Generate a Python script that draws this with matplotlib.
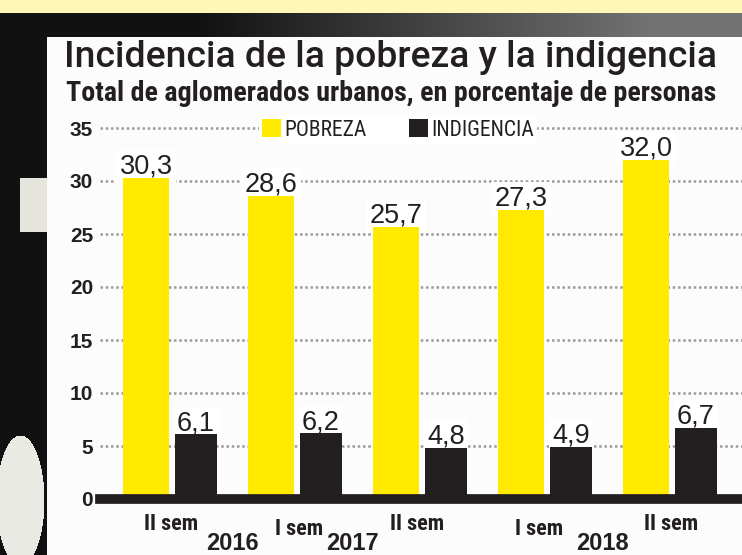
import os
import matplotlib
matplotlib.use('Agg')
import numpy as np
import matplotlib.pyplot as plt
from matplotlib import font_manager
from matplotlib.font_manager import FontProperties
from matplotlib.patches import Patch

# ── data ──────────────────────────────────────────────────────────────────────
periods    = ['II sem', 'I sem', 'II sem', 'I sem', 'II sem']
years      = ['2016', '2017', '2018']
pobreza    = [30.3, 28.6, 25.7, 27.3, 32.0]
indigencia = [6.1, 6.2, 4.8, 4.9, 6.7]
yticks     = [0, 5, 10, 15, 20, 25, 30, 35]

# ── layout / style ────────────────────────────────────────────────────────────
W, H      = 742, 555
YELLOW    = '#FFEA00'
BLACK     = '#231F20'
GRID      = '#9a9a9a'
TXT       = '#231F20'
year_x    = [0.49, 1.455, 3.45]    # year labels sit between the groups
period_dx = [0, 3, -4, -7, 0]      # small hand-set nudges (px), as printed
period_dy = [0, -5, 0, -5, 0]      # "I sem" labels sit a little lower (px)

files = {os.path.splitext(os.path.basename(f.fname))[0].lower(): f.fname
         for f in font_manager.fontManager.ttflist}


def pick(cands, fallback):
    for c in cands:
        if c.lower() in files:
            return FontProperties(fname=files[c.lower()])
    return FontProperties(family=fallback[0], weight=fallback[1])


COND_REG   = pick(['LiberationSansNarrow-Regular', 'NotoSans-Condensed',
                   'RobotoCondensed-Regular', 'DejaVuSansCondensed'],
                  ('Liberation Sans', 'normal'))
TITLE_FONT = pick(['Roboto-Medium', 'NotoSans-Medium', 'Inter-Medium',
                   'RobotoCondensed-Medium'],
                  ('Liberation Sans', 'normal'))
COND_BOLD  = pick(['LiberationSansNarrow-Bold', 'NotoSans-CondensedBold',
                   'RobotoCondensed-Bold', 'DejaVuSansCondensed-Bold'],
                  ('Liberation Sans', 'bold'))
SANS       = FontProperties(family='Liberation Sans')
SANS_BOLD  = FontProperties(family='Liberation Sans', weight='bold')


def fp(base, size):
    p = base.copy()
    p.set_size(size)
    return p


fig = plt.figure(figsize=(W / 100, H / 100), dpi=100)

# ── background: photo frame around the white panel ────────────────────────────
bg = np.full((H, W, 3), 0.07)
xx = np.arange(W)
ramp = 0.07 + 0.38 * np.clip((xx - 200) / 450, 0, 1)
bg[13:37, :, :] = ramp[None, :, None]
bg[:13, :, :] = (1.0, 0.965, 0.72)
bg[37:, 47:, :] = 0.99
bg[178:232, 20:47, :] = (0.9, 0.9, 0.87)
yy, xg = np.mgrid[0:H, 0:W]
blob = ((xg - 20) / 24.0) ** 2 + ((yy - 500) / 65.0) ** 2 < 1
blob &= xg < 47
bg[blob] = (0.92, 0.92, 0.9)
axbg = fig.add_axes([0, 0, 1, 1])
axbg.imshow(bg, extent=(0, W, H, 0), aspect='auto', interpolation='nearest')
axbg.set_xlim(0, W); axbg.set_ylim(H, 0)
axbg.axis('off')

# ── titles ────────────────────────────────────────────────────────────────────
def fit_width(t, target_px, max_size=99):
    fig.canvas.draw()
    w = t.get_window_extent(fig.canvas.get_renderer()).width
    t.set_fontsize(min(t.get_fontsize() * target_px / w, max_size))


title = fig.text(64 / W, 1 - 67 / H, 'Incidencia de la pobreza y la indigencia',
                 fontproperties=fp(TITLE_FONT, 24), color=TXT, va='baseline')
sub = fig.text(66 / W, 1 - 101 / H,
               'Total de aglomerados urbanos, en porcentaje de personas',
               fontproperties=fp(COND_BOLD, 18), color=TXT, va='baseline')
fit_width(title, 654, 28)
fit_width(sub, 650)

# ── chart axes ────────────────────────────────────────────────────────────────
px_unit = 10.6
y0_px   = 499
ytop    = 36.5
x0_px, grp_px = 171, 125
ax = fig.add_axes([100 / W, 1 - y0_px / H, (W - 100) / W, ytop * px_unit / H])
ax.set_facecolor('none')
ax.set_xlim((100 - x0_px) / grp_px, (W - x0_px) / grp_px)
ax.set_ylim(0, ytop)
for s in ax.spines.values():
    s.set_visible(False)

x = np.arange(len(periods))
for yv in yticks[1:]:
    ax.axhline(yv, color=GRID, lw=1.8, linestyle=(0, (1, 1.1)), zorder=1)

ax.bar(x - 0.2, pobreza, 0.37, color=YELLOW, zorder=2)
ax.bar(x + 0.2, indigencia, 0.34, color=BLACK, zorder=2)
ax.axhline(0, color=BLACK, lw=7, zorder=3, clip_on=False)

for xs, vals in ((x - 0.2, pobreza), (x + 0.2, indigencia)):
    for xi, v in zip(xs, vals):
        ax.annotate(f'{v:.1f}'.replace('.', ','), xy=(xi, v), xytext=(0, 3),
                    textcoords='offset points', ha='center', va='baseline',
                    fontproperties=fp(SANS, 19.5), color=TXT, zorder=1.5,
                    bbox=dict(facecolor='white', edgecolor='none', pad=2.5))

ax.set_yticks(yticks)
ax.set_yticklabels([str(t) for t in yticks], fontproperties=fp(SANS_BOLD, 15),
                   color=TXT)
ax.tick_params(axis='y', length=0, pad=5)
ax.set_xticks([])

for xi, lab, dx, dy in zip(x, periods, period_dx, period_dy):
    ax.annotate(lab, xy=(xi, 0), xycoords=('data', 'axes fraction'),
                xytext=(dx * 0.72, -10 + dy * 0.72), textcoords='offset points',
                ha='center', va='top', fontproperties=fp(COND_BOLD, 16),
                color=TXT, annotation_clip=False)
for xi, lab in zip(year_x, years):
    ax.annotate(lab, xy=(xi, 0), xycoords=('data', 'axes fraction'),
                xytext=(0, -24), textcoords='offset points',
                ha='center', va='top', fontproperties=fp(SANS_BOLD, 17),
                color=TXT, annotation_clip=False)

# ── legend ────────────────────────────────────────────────────────────────────
handles = [Patch(facecolor=YELLOW, edgecolor='none', label='POBREZA'),
           Patch(facecolor=BLACK, edgecolor='none', label='INDIGENCIA')]
leg = ax.legend(handles=handles, loc='center', ncol=2,
                bbox_to_anchor=((398 - 100) / (W - 100), (y0_px - 130) / (ytop * px_unit)),
                frameon=True, facecolor='white', edgecolor='none', framealpha=1,
                handlelength=0.85, handleheight=0.85, handletextpad=0.15,
                columnspacing=2.0, borderpad=0.15, fancybox=False,
                prop=fp(COND_REG, 15.5))
for t in leg.get_texts():
    t.set_color(TXT)

fig.savefig('out.png', dpi=100)
